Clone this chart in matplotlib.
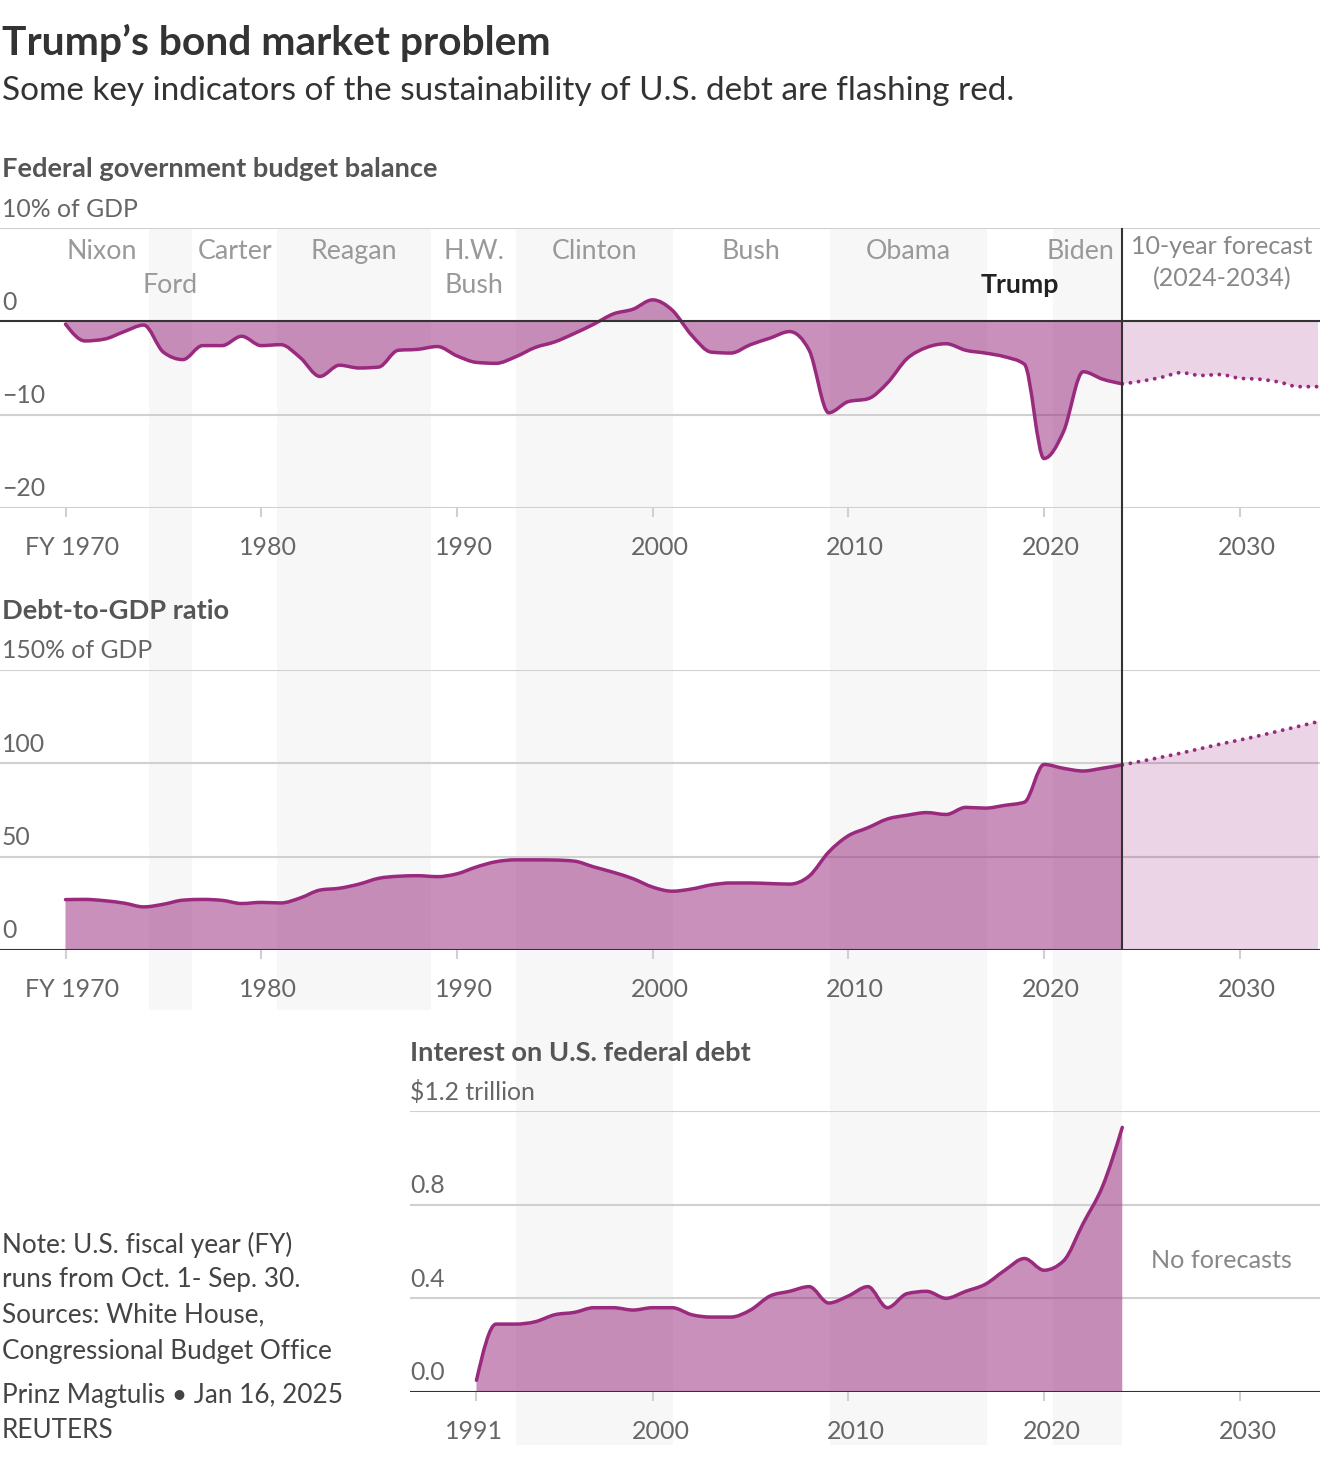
import numpy as np
import matplotlib
matplotlib.use('Agg')
import matplotlib.pyplot as plt
from matplotlib.path import Path
from matplotlib.patches import PathPatch
from matplotlib.transforms import ScaledTranslation

# ---- data -------------------------------------------------------------
bal_years = list(range(1970, 2025))
balance = [-0.3, -2.1, -1.9, -1.1, -0.4, -3.3, -4.1, -2.6, -2.6, -1.6,
           -2.6, -2.5, -3.9, -5.9, -4.7, -5.0, -4.9, -3.1, -3.0, -2.7,
           -3.7, -4.4, -4.5, -3.8, -2.8, -2.2, -1.3, -0.3, 0.8, 1.3,
           2.3, 1.2, -1.5, -3.3, -3.4, -2.5, -1.8, -1.1, -3.1, -9.8,
           -8.6, -8.3, -6.6, -4.0, -2.8, -2.4, -3.1, -3.4, -3.8, -4.6,
           -14.7, -11.8, -5.4, -6.2, -6.7]
fc_years = list(range(2024, 2035))
balance_fc = [-6.7, -6.4, -6.0, -5.5, -5.8, -5.7, -6.1, -6.2, -6.5, -7.0, -7.0]

debt_years = list(range(1970, 2025))
debt = [27.0, 27.1, 26.4, 25.1, 23.1, 24.5, 26.7, 27.1, 26.6, 24.9,
        25.5, 25.2, 27.9, 32.1, 33.1, 35.3, 38.4, 39.5, 39.8, 39.3,
        40.8, 44.5, 47.3, 48.3, 48.3, 48.2, 47.6, 44.5, 41.6, 38.2,
        33.7, 31.5, 32.7, 34.9, 35.9, 35.9, 35.6, 35.3, 39.6, 52.5,
        61.2, 65.5, 70.2, 72.2, 73.6, 72.6, 76.4, 76.0, 77.5, 79.2,
        99.4, 97.3, 95.9, 97.4, 99.2]
debt_fc = [99.2, 101.2, 103.3, 105.5, 107.9, 110.3, 112.5, 114.8, 117.3, 119.8, 122.3]

int_years = list(range(1991, 2025))
interest = [0.05, 0.29, 0.29, 0.30, 0.33, 0.34, 0.36, 0.36, 0.35, 0.36,
            0.36, 0.33, 0.32, 0.32, 0.35, 0.41, 0.43, 0.45, 0.38, 0.41,
            0.45, 0.36, 0.42, 0.43, 0.40, 0.43, 0.46, 0.52, 0.57, 0.52,
            0.56, 0.72, 0.88, 1.13]

presidents = ['Nixon', 'Ford', 'Carter', 'Reagan', 'H.W.\nBush', 'Clinton',
              'Bush', 'Obama', 'Trump', 'Biden']
term_start = [1969.5, 1974.25, 1976.47, 1980.81, 1988.67, 1993.03, 2001.03,
              2009.07, 2017.09, 2020.47]
term_end = [1974.25, 1976.47, 1980.81, 1988.67, 1993.03, 2001.03, 2009.07,
            2017.09, 2020.47, 2024.0]

xticks_top = [1970, 1980, 1990, 2000, 2010, 2020, 2030]
xlabels_top = ['FY 1970', '1980', '1990', '2000', '2010', '2020', '2030']
xticks_bot = [1991, 2000, 2010, 2020, 2030]

# ---- style ------------------------------------------------------------
plt.rcParams['font.family'] = ['Lato', 'DejaVu Sans']
LINE = '#992a7e'
GRID = '#d0d0d0'
DARK = '#333333'
BAND = '#f7f7f7'

W, H = 1320, 1462
fig = plt.figure(figsize=(W / 100, H / 100), dpi=100)

# x scale: 1970 at 65.5 px, 19.57 px per year
PX_YEAR = 19.57
def yr(px):
    return 1970 + (px - 65.5) / PX_YEAR

def add_ax(x0, y0, x1, y1, z=1):
    ax = fig.add_axes([x0 / W, 1 - y1 / H, (x1 - x0) / W, (y1 - y0) / H], zorder=z)
    ax.set_facecolor('none')
    ax.set_xlim(yr(x0), yr(x1))
    for s in ax.spines.values():
        s.set_visible(False)
    ax.set_yticks([])
    return ax

def ftext(x, y, s, **kw):
    fig.text(x / W, 1 - y / H, s, **kw)


def mono_path(xs, ys, base=None):
    # monotone cubic (like d3 curveMonotoneX) drawn as bezier segments
    xs = np.asarray(xs, float)
    ys = np.asarray(ys, float)
    n = len(xs)
    h = np.diff(xs)
    s = np.diff(ys) / h
    t = np.zeros(n)
    for i in range(1, n - 1):
        p = (s[i - 1] * h[i] + s[i] * h[i - 1]) / (h[i - 1] + h[i])
        t[i] = (np.sign(s[i - 1]) + np.sign(s[i])) * min(abs(s[i - 1]), abs(s[i]), 0.5 * abs(p))
    t[0] = (3 * s[0] - t[1]) / 2
    t[-1] = (3 * s[-1] - t[-2]) / 2
    verts = [(xs[0], ys[0])]
    codes = [Path.MOVETO]
    for i in range(n - 1):
        d = h[i] / 3
        verts += [(xs[i] + d, ys[i] + d * t[i]), (xs[i + 1] - d, ys[i + 1] - d * t[i + 1]),
                  (xs[i + 1], ys[i + 1])]
        codes += [Path.CURVE4] * 3
    if base is not None:
        verts += [(xs[-1], base), (xs[0], base), (xs[0], ys[0])]
        codes += [Path.LINETO, Path.LINETO, Path.CLOSEPOLY]
    return Path(verts, codes)


def draw_series(ax, xs, ys, alpha=0.52, dotted=False):
    ax.add_patch(PathPatch(mono_path(xs, ys, 0), facecolor=LINE, alpha=alpha,
                           edgecolor='none', zorder=2))
    if dotted:
        ax.add_patch(PathPatch(mono_path(xs, ys), fill=False, edgecolor=LINE, lw=2.8,
                               linestyle=(0, (0.01, 2.1)), capstyle='round', zorder=3))
    else:
        ax.add_patch(PathPatch(mono_path(xs, ys), fill=False, edgecolor=LINE, lw=2.5,
                               capstyle='round', joinstyle='round', zorder=3))


def style_chart(ax, grid, zero, ticks, labels, ylabels, label_x, shift):
    for g in grid:
        ax.axhline(g, color=GRID, lw=1.5, zorder=1)
    ax.axhline(zero, color=DARK, lw=1.5, zorder=4)
    ax.set_xticks(ticks)
    ax.set_xticklabels(labels)
    ax.tick_params(axis='x', length=6.5, width=1.5, color=GRID, labelsize=18,
                   labelcolor='#666666', pad=14)
    for lbl, dx in zip(ax.get_xticklabels(), shift):
        lbl.set_transform(lbl.get_transform() + ScaledTranslation(dx / 100, 0, fig.dpi_scale_trans))
    off = ScaledTranslation(0, 19 / 100, fig.dpi_scale_trans)
    for v, s in ylabels:
        ax.text(label_x, v, s, transform=ax.get_yaxis_transform() + off, ha='left',
                va='center', fontsize=17.8, color='#666666')


# ---- background bands ---------------------------------------------------
bg = add_ax(0, 228, 1320, 1010, z=0)
bg.set_xticks([])
bg2 = add_ax(477, 1010, 1320, 1445, z=0)
bg2.set_xticks([])
for i, (a, b) in enumerate(zip(term_start, term_end)):
    if i % 2 == 1:
        bg.axvspan(a, b, color=BAND, lw=0)
        bg2.axvspan(a, b, color=BAND, lw=0)

# ---- chart 1: budget balance ------------------------------------------
ax1 = add_ax(0, 228, 1320, 508)
ax1.set_ylim(-20, 10)
draw_series(ax1, fc_years, balance_fc, alpha=0.2, dotted=True)
draw_series(ax1, bal_years, balance)
style_chart(ax1, [10, -10, -20], 0, xticks_top, xlabels_top,
            [(10, '10% of GDP'), (0, '0'), (-10, '\u221210'), (-20, '\u221220')],
            2 / W, [7] * 7)

row1 = 1 - (251 - 228) / 280
row2 = 1 - (285 - 228) / 280
for i, name in enumerate(presidents):
    mid = (term_start[i] + term_end[i]) / 2
    if name == 'Trump':
        kw = dict(color='#222222', fontweight='bold')
    else:
        kw = dict(color='#999999')
    ha = 'center'
    if name == 'Biden':
        mid, ha = term_end[i] - 0.4, 'right'
    lines = name.split('\n')
    rows = [row2] if name in ('Ford', 'Trump') else [row1, row2]
    for txt, r in zip(lines, rows):
        ax1.text(mid, r, txt, transform=ax1.get_xaxis_transform(), ha=ha, va='center',
                 fontsize=19.3, **kw)

ftext(1222, 246, '10-year forecast', ha='center', va='center', fontsize=18, color='#888888')
ftext(1222, 279, '(2024-2034)', ha='center', va='center', fontsize=18, color='#888888')

# ---- chart 2: debt to GDP ---------------------------------------------
ax2 = add_ax(0, 670, 1320, 950)
ax2.set_ylim(0, 150)
draw_series(ax2, fc_years, debt_fc, alpha=0.2, dotted=True)
draw_series(ax2, debt_years, debt)
style_chart(ax2, [150, 100, 50], 0, xticks_top, xlabels_top,
            [(150, '150% of GDP'), (100, '100'), (50, '50'), (0, '0')],
            2 / W, [7] * 7)

# ---- chart 3: interest ------------------------------------------------
ax3 = add_ax(410, 1111, 1320, 1392)
ax3.set_ylim(0, 1.2)
draw_series(ax3, int_years, interest)
style_chart(ax3, [1.2, 0.8, 0.4], 0, xticks_bot, [str(t) for t in xticks_bot],
            [(1.2, '$1.2 trillion'), (0.8, '0.8'), (0.4, '0.4'), (0.0, '0.0')],
            0, [-3, 8, 8, 8, 8])
ax3.text(0.892, 0.467, 'No forecasts', transform=ax3.transAxes, ha='center', va='center',
         fontsize=18.2, color='#888888')

# ---- forecast divider -------------------------------------------------
ov = add_ax(0, 228, 1320, 950, z=5)
ov.set_xticks([])
ov.axvline(2024, color=DARK, lw=1.5)

# ---- titles and notes --------------------------------------------------
ftext(2, 43, 'Trump\u2019s bond market problem', ha='left', va='center', fontsize=29.3,
      fontweight='bold', color='#333333')
ftext(2, 91, 'Some key indicators of the sustainability of U.S. debt are flashing red.',
      ha='left', va='center', fontsize=24, color='#333333')
ftext(2, 169, 'Federal government budget balance', ha='left', va='center', fontsize=19.6,
      fontweight='bold', color='#555555')
ftext(2, 611, 'Debt-to-GDP ratio', ha='left', va='center', fontsize=19.6,
      fontweight='bold', color='#555555')
ftext(410, 1053, 'Interest on U.S. federal debt', ha='left', va='center', fontsize=19.6,
      fontweight='bold', color='#555555')

notes = [(1245, 'Note: U.S. fiscal year (FY)'), (1280, 'runs from Oct. 1- Sep. 30.'),
         (1315, 'Sources: White House,'), (1351, 'Congressional Budget Office'),
         (1395, 'Prinz Magtulis \u2022 Jan 16, 2025'), (1430, 'REUTERS')]
for y, s in notes:
    ftext(2, y, s, ha='left', va='center', fontsize=18.8, color='#444444')

fig.savefig('out.png', dpi=100, facecolor='white')
